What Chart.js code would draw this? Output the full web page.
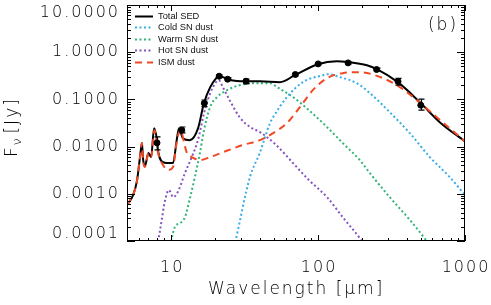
<!DOCTYPE html>
<html>
<head>
<meta charset="utf-8">
<title>SED fit (b)</title>
<script src="https://cdn.jsdelivr.net/npm/chart.js@4.4.1/dist/chart.umd.min.js"></script>
<style>
  html, body { margin: 0; padding: 0; background: #fff; }
  #wrap { width: 491px; height: 305px; }
</style>
</head>
<body>
<div id="wrap"><canvas id="sedChart" width="491" height="305"></canvas></div>
<script>
// wavelength in micron, flux density in Jy
const sedWave = [5.0, 5.5, 5.85, 6.13, 6.32, 6.43, 6.62, 7.0, 7.3, 7.64, 8.0, 8.12, 8.79, 9.35, 10.3, 10.9, 11.3, 12.0, 13.4, 15.2, 16.7, 18.4, 20.5, 21.1, 22.5, 24.3, 28.0, 32.3, 40.2, 55.0, 69.5, 99.6, 134, 159, 215, 251, 349, 492, 673, 1000];
const sedFlux = [0.00058, 0.00094, 0.0019, 0.0060, 0.0119, 0.0055, 0.0039, 0.0073, 0.0060, 0.0246, 0.0137, 0.0084, 0.0047, 0.0045, 0.0045, 0.0137, 0.0246, 0.0151, 0.0137, 0.024, 0.083, 0.18, 0.296, 0.32, 0.296, 0.268, 0.245, 0.243, 0.243, 0.232, 0.326, 0.557, 0.645, 0.62, 0.53, 0.44, 0.232, 0.0875, 0.033, 0.0129];

const coldWave = [26.0, 27.2, 34.4, 40.2, 47.0, 49.4, 61.3, 78.7, 108, 116, 141, 183, 225, 307, 421, 576, 787, 1000];
const coldFlux = [0.00005, 0.00009, 0.0023, 0.0075, 0.0314, 0.042, 0.112, 0.232, 0.326, 0.342, 0.296, 0.221, 0.136, 0.0537, 0.0193, 0.0060, 0.00226, 0.00094];

const warmWave = [9.7, 9.96, 10.6, 11.5, 12.4, 13.4, 14.5, 15.7, 16.7, 18.4, 20.5, 24.0, 29.2, 35.9, 47.0, 52.6, 67.4, 86.6, 115, 147, 192, 225, 307, 421, 549, 600];
const warmFlux = [0.00005, 0.00009, 0.0002, 0.00024, 0.00032, 0.0008, 0.0023, 0.0075, 0.022, 0.0686, 0.112, 0.157, 0.200, 0.221, 0.221, 0.182, 0.112, 0.0592, 0.0259, 0.0119, 0.0052, 0.00275, 0.00085, 0.00028, 0.0001, 0.00007];

const hotWave = [7.9, 8.12, 8.62, 9.0, 9.65, 10.3, 11.1, 12.4, 13.8, 15.2, 16.7, 17.5, 19.2, 21.1, 22.5, 25.0, 29.2, 34.4, 40.2, 52.6, 67.4, 86.6, 115, 147, 192, 230];
const hotFlux = [0.00005, 0.00009, 0.00028, 0.00064, 0.0012, 0.00085, 0.0011, 0.00275, 0.0060, 0.0137, 0.05, 0.085, 0.18, 0.255, 0.18, 0.096, 0.042, 0.026, 0.0203, 0.0103, 0.0045, 0.00195, 0.00085, 0.00032, 0.000115, 0.00005];

const ismWave = [5.0, 5.5, 5.85, 6.13, 6.32, 6.43, 6.62, 7.0, 7.3, 7.7, 8.12, 8.79, 9.5, 10.3, 10.9, 11.5, 12.8, 13.8, 15.7, 18.4, 22.5, 30.7, 40.2, 49.4, 61.3, 75.2, 92.0, 115, 147, 192, 276, 360, 470, 642, 1000];
const ismFlux = [0.00058, 0.00094, 0.0019, 0.0060, 0.0119, 0.0052, 0.0037, 0.0073, 0.0060, 0.0223, 0.0076, 0.0041, 0.0032, 0.0037, 0.0125, 0.0223, 0.0073, 0.0060, 0.0052, 0.0060, 0.0076, 0.0108, 0.0137, 0.0193, 0.0314, 0.0686, 0.157, 0.282, 0.360, 0.377, 0.282, 0.182, 0.0964, 0.0421, 0.0129];

// observed photometry with error bars
const obsWave = [8.0, 11.8, 16.8, 21.2, 24.2, 32.3, 70, 100, 160, 250, 350, 500];
const obsFlux = [0.012, 0.0223, 0.083, 0.31, 0.268, 0.243, 0.337, 0.565, 0.594, 0.43, 0.24, 0.0755];
const obsLow  = [0.0085, 0.0195, 0.070, 0.29, 0.25, 0.215, 0.315, 0.535, 0.56, 0.40, 0.20, 0.059];
const obsHigh = [0.016, 0.026, 0.097, 0.33, 0.285, 0.27, 0.36, 0.595, 0.63, 0.46, 0.28, 0.101];

// axis ranges and tick labels
const xMin = 5, xMax = 1000;
const yMin = 0.0001, yMax = 10;
const xLabels = [10, 100, 1000];
const yLabels = [0.0001, 0.001, 0.01, 0.1, 1, 10];

const labelFont = '200 16px "DejaVu Sans"';
const titleFont = '200 17px "DejaVu Sans"';

function pts(w, f) {
    return w.map((v, i) => ({ x: v, y: f[i] }));
}

function curve(label, w, f, color, dash, width) {
    return {
        label: label,
        data: pts(w, f),
        borderColor: color,
        backgroundColor: color,
        borderWidth: width,
        borderDash: dash,
        pointRadius: 0,
        fill: false,
        cubicInterpolationMode: 'monotone'
    };
}

// draws the box, inward ticks, tick labels, titles, legend and error bars
const axesFrame = {
    id: 'axesFrame',
    afterDatasetsDraw(chart) {
        const ctx = chart.ctx;
        const a = chart.chartArea;
        const xs = chart.scales.x, ys = chart.scales.y;
        ctx.save();
        ctx.strokeStyle = '#000';
        ctx.fillStyle = '#000';
        ctx.setLineDash([]);

        // error bars
        ctx.lineWidth = 1.2;
        obsWave.forEach((w, i) => {
            const px = Math.round(xs.getPixelForValue(w)) + 0.5;
            const top = ys.getPixelForValue(obsHigh[i]);
            const bot = ys.getPixelForValue(obsLow[i]);
            ctx.beginPath();
            ctx.moveTo(px, top); ctx.lineTo(px, bot);
            ctx.moveTo(px - 3, top); ctx.lineTo(px + 3, top);
            ctx.moveTo(px - 3, bot); ctx.lineTo(px + 3, bot);
            ctx.stroke();
        });

        // box
        ctx.lineWidth = 1;
        ctx.strokeRect(a.left + 0.5, a.top + 0.5, a.right - a.left - 1, a.bottom - a.top - 1);

        // ticks, pointing inward on all four sides
        ctx.beginPath();
        for (let e = 0; e <= 3; e++) {
            for (let k = 1; k <= 9; k++) {
                const v = k * Math.pow(10, e);
                if (v < xMin || v > xMax) continue;
                const px = Math.round(xs.getPixelForValue(v)) + 0.5;
                const len = k === 1 ? 6 : 3;
                ctx.moveTo(px, a.bottom); ctx.lineTo(px, a.bottom - len);
                ctx.moveTo(px, a.top); ctx.lineTo(px, a.top + len);
            }
        }
        for (let e = -4; e <= 1; e++) {
            for (let k = 1; k <= 9; k++) {
                const v = k * Math.pow(10, e);
                if (v < yMin * 0.999 || v > yMax * 1.001) continue;
                const py = Math.round(ys.getPixelForValue(v)) + 0.5;
                const len = k === 1 ? 8 : 4;
                ctx.moveTo(a.left, py); ctx.lineTo(a.left + len, py);
                ctx.moveTo(a.right, py); ctx.lineTo(a.right - len, py);
            }
        }
        ctx.stroke();

        // tick labels
        ctx.letterSpacing = '2px';
        ctx.font = labelFont;
        ctx.fillStyle = '#000';
        ctx.textAlign = 'center';
        ctx.textBaseline = 'alphabetic';
        xLabels.forEach(v => {
            ctx.fillText(String(v), xs.getPixelForValue(v) + 1, 272);
        });
        ctx.textAlign = 'right';
        ctx.textBaseline = 'middle';
        yLabels.forEach(v => {
            let py = ys.getPixelForValue(v);
            py = Math.min(Math.max(py, a.top + 8), a.bottom - 7);
            ctx.fillText(v.toFixed(4), 120, py);
        });

        // axis titles
        ctx.font = titleFont;
        ctx.textAlign = 'left';
        ctx.textBaseline = 'alphabetic';
        ctx.fillText('Wavelength [\u03BCm]', 208, 294);

        ctx.save();
        ctx.translate(17, 157);
        ctx.rotate(-Math.PI / 2);
        ctx.fillText('F', 0, 0);
        let off = ctx.measureText('F').width;
        ctx.font = '200 12px "DejaVu Sans"';
        ctx.fillText('\u03BD', off, 4);
        off += ctx.measureText('\u03BD').width + 3;
        ctx.font = titleFont;
        ctx.fillText('[Jy]', off, 0);
        ctx.restore();

        // panel tag
        ctx.textAlign = 'center';
        ctx.fillText('(b)', 443, 30);

        // legend
        ctx.letterSpacing = '0px';
        ctx.font = '9.3px "Liberation Sans"';
        ctx.textAlign = 'left';
        ctx.textBaseline = 'middle';
        const items = chart.data.datasets.filter(d => !d.isObs);
        const order = ['Total SED', 'Cold SN dust', 'Warm SN dust', 'Hot SN dust', 'ISM dust'];
        order.forEach((name, i) => {
            const d = items.find(s => s.label === name);
            const y = Math.round(16 + i * 11.4) + 0.5;
            ctx.strokeStyle = d.borderColor;
            ctx.lineWidth = d.borderWidth;
            ctx.setLineDash(d.borderDash);
            ctx.beginPath();
            ctx.moveTo(135, y); ctx.lineTo(153, y);
            ctx.stroke();
            ctx.fillStyle = '#111';
            ctx.fillText(name, 158, y);
        });
        ctx.restore();
    }
};

// the first dataset is painted last, so points sit on top and ISM over the total
const ctx = document.getElementById('sedChart').getContext('2d');
const sedChart = new Chart(ctx, {
    type: 'line',
    data: {
        datasets: [
            {
                label: 'Observed',
                isObs: true,
                data: pts(obsWave, obsFlux),
                showLine: false,
                pointRadius: 3,
                pointBackgroundColor: '#000',
                pointBorderColor: '#000',
                borderColor: '#000'
            },
            curve('ISM dust', ismWave, ismFlux, '#f04a25', [7, 5], 2),
            curve('Total SED', sedWave, sedFlux, '#000000', [], 2),
            curve('Cold SN dust', coldWave, coldFlux, '#38ade8', [2, 2.5], 2),
            curve('Warm SN dust', warmWave, warmFlux, '#2fb577', [2, 2.5], 2),
            curve('Hot SN dust', hotWave, hotFlux, '#8552bf', [2, 2.5], 2)
        ]
    },
    options: {
        responsive: false,
        animation: false,
        layout: { padding: { top: 4, right: 26, left: 0, bottom: 0 } },
        plugins: {
            legend: { display: false },
            tooltip: { enabled: false }
        },
        scales: {
            x: {
                type: 'logarithmic',
                min: xMin,
                max: xMax,
                grid: { display: false },
                border: { display: false },
                ticks: { display: false },
                afterFit(scale) { scale.height = 64; }
            },
            y: {
                type: 'logarithmic',
                min: yMin,
                max: yMax,
                grid: { display: false },
                border: { display: false },
                ticks: { display: false },
                afterFit(scale) { scale.width = 127; }
            }
        }
    },
    plugins: [axesFrame]
});
</script>
</body>
</html>
